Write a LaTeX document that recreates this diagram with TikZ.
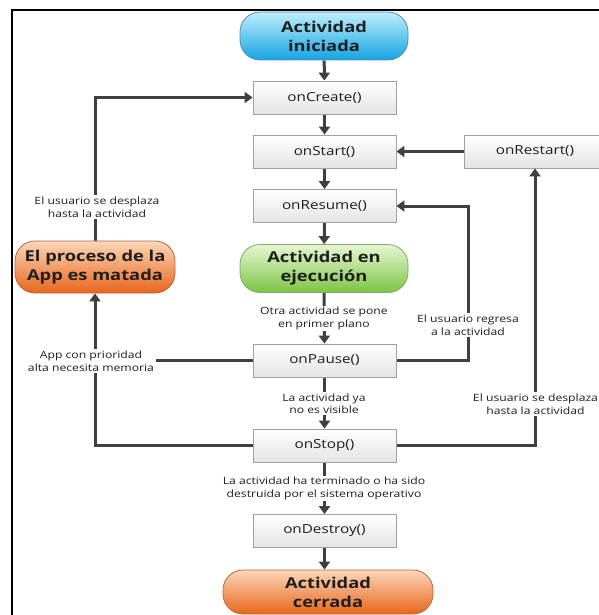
\documentclass[tikz,border=0pt]{standalone}
\usepackage{fontspec}
\setmainfont{Open Sans}[FakeStretch=1.22]
\usetikzlibrary{arrows.meta}
\pgfdeclarelayer{background}
\pgfsetlayers{background,main}

\definecolor{linegray}{HTML}{404040}
\definecolor{txt}{HTML}{1E1E1E}
\definecolor{boxedge}{HTML}{A0A0A0}
\definecolor{boxbottom}{HTML}{E4E4E4}
\definecolor{cyantop}{HTML}{BDEEFC}
\definecolor{cyanbot}{HTML}{14A4E2}
\definecolor{cyanedge}{HTML}{5C8FAE}
\definecolor{greentop}{HTML}{E6F6D2}
\definecolor{greenbot}{HTML}{7CC442}
\definecolor{greenedge}{HTML}{86A86C}
\definecolor{orangetop}{HTML}{FCD6B8}
\definecolor{orangebot}{HTML}{E8661C}
\definecolor{orangeedge}{HTML}{B06A44}

\begin{document}
\begin{tikzpicture}[x=1pt,y=-1pt,
  flow/.style={draw=linegray, line width=3pt, -{Triangle[width=11pt,length=8pt]}},
  link/.style={draw=linegray, line width=3pt},
  method/.style={draw=boxedge, line width=0.8pt, top color=white, bottom color=boxbottom,
    minimum width=143pt, minimum height=33pt, inner sep=0pt,
    font=\fontsize{12.5}{15}\selectfont, text=txt},
  state/.style={rounded corners=20pt, line width=0.8pt, minimum width=168pt,
    minimum height=48pt, inner sep=0pt, align=center,
    font=\bfseries\fontsize{15}{19}\selectfont, text=txt},
  started/.style={state, draw=cyanedge, top color=cyantop, bottom color=cyanbot},
  running/.style={state, draw=greenedge, top color=greentop, bottom color=greenbot},
  ended/.style={state, draw=orangeedge, top color=orangetop, bottom color=orangebot},
  note/.style={fill=white, align=center, inner sep=1.5pt,
    font=\fontsize{10}{12.5}\selectfont, text=txt}
]
\useasboundingbox (0,0) rectangle (598,615);

% outer frame
\draw[line width=2pt, black] (12,616) -- (12,10) -- (599,10);

% lifecycle states and callbacks
\node[started] (ini) at (324,36) {Actividad\\iniciada};
\node[method] (create) at (324.5,97.5) {onCreate()};
\node[method] (start) at (324.5,151.5) {onStart()};
\node[method, minimum width=142pt] (restart) at (535,151.5) {onRestart()};
\node[method] (resume) at (324.5,206) {onResume()};
\node[running] (run) at (324,268.5) {Actividad en\\ejecución};
\node[method] (pause) at (324.5,360.5) {onPause()};
\node[method] (stop) at (324.5,445.5) {onStop()};
\node[method] (destroy) at (324.5,531) {onDestroy()};
\node[ended, minimum width=210pt, minimum height=44pt] (fin) at (328,592) {Actividad\\cerrada};
\node[ended, minimum width=160pt, minimum height=52pt] (kill) at (95,267) {El proceso de la\\App es matada};

% transition labels
\node[note] (lforeground) at (324,318.5) {Otra actividad se pone\\en primer plano};
\node[note] (lhidden) at (324,403.5) {La actividad ya\\no es visible};
\node[note] (lfinish) at (324,488.5) {La actividad ha terminado o ha sido\\destruida por el sistema operativo};
\node[note] (lback) at (468,325) {El usuario regresa\\a la actividad};
\node[note] (lnavright) at (535.5,404) {El usuario se desplaza\\hasta la actividad};
\node[note] (lnavleft) at (97,207) {El usuario se desplaza\\hasta la actividad};
\node[note] (lmemory) at (91,361) {App con prioridad\\alta necesita memoria};

\coordinate (backx) at (468,0);

\begin{pgfonlayer}{background}
  \draw[flow] (ini) -- (create);
  \draw[flow] (create) -- (start);
  \draw[flow] (start) -- (resume);
  \draw[flow] (resume) -- (run);
  \draw[flow] (run) -- (pause);
  \draw[flow] (pause) -- (stop);
  \draw[flow] (stop) -- (destroy);
  \draw[flow] (destroy.south) -- (destroy.south |- fin.north);
  \draw[flow] (restart) -- (start);
  \draw[flow] (pause.east) -- (pause.east -| backx) -- (resume.east -| backx) -- (resume.east);
  \draw[flow] (stop.east) -| (restart.south);
  \draw[flow] (stop.west) -| (kill.south);
  \draw[flow] (kill.north) |- (create.west);
  \draw[link] (pause.west) -- (pause.west -| lmemory.east);
\end{pgfonlayer}
\end{tikzpicture}
\end{document}
